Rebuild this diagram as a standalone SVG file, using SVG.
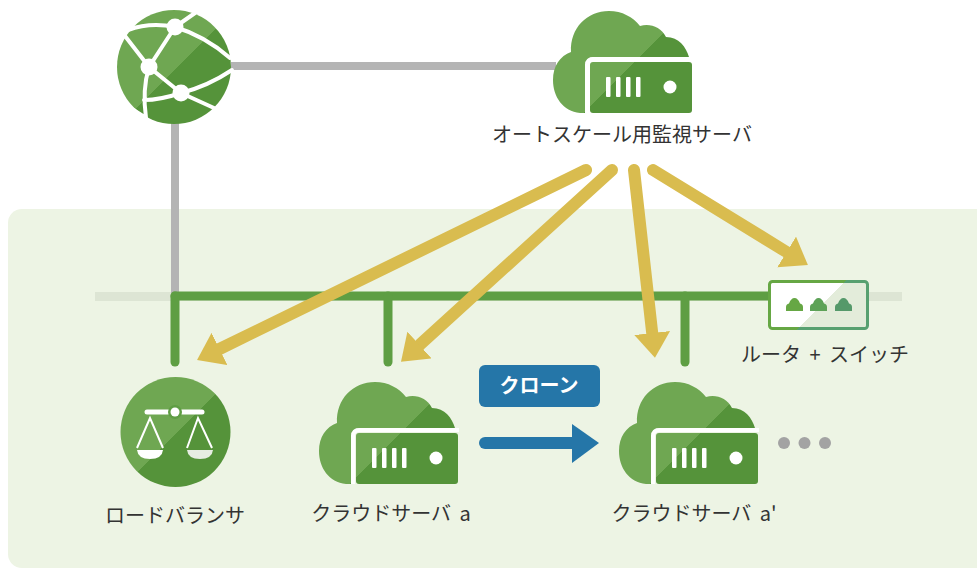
<svg xmlns="http://www.w3.org/2000/svg" xmlns:xlink="http://www.w3.org/1999/xlink" width="977" height="569" viewBox="0 0 977 569">
<style>
text{font-family:"Noto Sans CJK JP","Liberation Sans",sans-serif;font-size:20px;font-weight:400;fill:#333;text-anchor:middle;word-spacing:4px}
.gray{fill:none;stroke:#b4b4b4;stroke-width:8}
.green{fill:none;stroke:#5e9e43;stroke-width:9;stroke-linecap:round}
.yellow{fill:none;stroke:#d9bc4f;stroke-width:12;stroke-linecap:round;marker-end:url(#head)}
.wl{fill:none;stroke:#fff;stroke-width:4;stroke-linecap:round}
.dot{fill:#a3a3a3}
</style>
<defs>
<marker id="head" markerUnits="userSpaceOnUse" viewBox="0 0 25 36" markerWidth="25" markerHeight="36" refX="0" refY="18" orient="auto"><path d="M0,0L25,18L0,36Z" fill="#d9bc4f"/></marker>
<linearGradient id="gCloud" gradientUnits="userSpaceOnUse" x1="0" y1="0" x2="100" y2="100"><stop offset=".665" stop-color="#6fa752"/><stop offset=".665" stop-color="#55933a"/></linearGradient>
<linearGradient id="gGlobe" gradientUnits="userSpaceOnUse" x1="0" y1="0" x2="122" y2="122"><stop offset="1" stop-color="#6fa752"/><stop offset="1" stop-color="#55933a"/></linearGradient>
<linearGradient id="gScale" gradientUnits="userSpaceOnUse" x1="0" y1="0" x2="305" y2="305"><stop offset="1" stop-color="#6fa752"/><stop offset="1" stop-color="#55933a"/></linearGradient>
<linearGradient id="gRFill" gradientUnits="userSpaceOnUse" x1="500" y1="500" x2="563.5" y2="563.5"><stop offset="1" stop-color="#fff"/><stop offset="1" stop-color="#e3ecda"/></linearGradient>
<linearGradient id="gRLine" gradientUnits="userSpaceOnUse" x1="500" y1="500" x2="563.5" y2="563.5"><stop offset="1" stop-color="#66a744"/><stop offset="1" stop-color="#57a070"/></linearGradient>
<symbol id="cloudServer" overflow="visible" width="140" height="103" viewBox="0 0 140 103">
<path d="M32,102H27C10,100 0,86 0,69C0,55 7,45 18,41C17,17 34,0 56,0C69,0 80,6 87,15C97,12 108,16 113,26C126,26 133,36 136,46H40Q33,46 33,54V102Z" fill="url(#gCloud)"/>
<path d="M34,102V54Q34,48 41,48H140" fill="none" stroke="#fff" stroke-width="4"/>
<rect x="37" y="51" width="102" height="51" rx="3" fill="url(#gCloud)"/>
<g fill="#fff"><rect x="53" y="66" width="4.5" height="20" rx="1"/><rect x="63" y="66" width="4.5" height="20" rx="1"/><rect x="73" y="66" width="4.5" height="20" rx="1"/><rect x="83" y="66" width="4.5" height="20" rx="1"/><circle cx="117" cy="76" r="6.5"/></g>
</symbol>
<path id="port" d="M0,13V9Q0,6 3,5.500Q5,0 8.500,0Q12,0 14,5.500Q17,6 17,9V13Z"/>
</defs>

<rect id="zone" x="8" y="209" width="1000" height="359" rx="14" fill="#edf4e4"/>
<rect id="backbone" x="95" y="292" width="807" height="9" fill="#dde5d4"/>

<g id="connectors">
<path class="gray" d="M231,66H556"/>
<path class="gray" d="M175,123V293"/>
<path class="green" d="M175,296H770"/>
<path class="green" d="M175,296V362"/>
<path class="green" d="M388,296V362"/>
<path class="green" d="M685,296V362"/>
<path class="yellow" d="M586,170L219.500,349"/>
<path class="yellow" d="M612,170L419.500,345"/>
<path class="yellow" d="M634,170L652.200,333"/>
<path class="yellow" d="M653,170L786.600,252"/>
<path d="M485,443H572" fill="none" stroke="#2576a8" stroke-width="12" stroke-linecap="round"/>
<path d="M572,424L599,443L572,463Z" fill="#2576a8"/>
</g>

<g id="internet">
<circle cx="174" cy="67" r="57" fill="url(#gGlobe)"/>
<path class="wl" d="M175,27L149,67L181,93M125,36L149,67M128,30Q150,22 175,27Q205,36 230,58M175,27L195,13M181,93Q208,86 232,70M181,93Q160,100 144,100M181,93L214,108M149,67Q142,90 146,118M116,99L146,118"/>
<circle cx="175" cy="27" r="8.500" fill="#fff"/><circle cx="149" cy="67" r="8.500" fill="#fff"/><circle cx="181" cy="93" r="8.500" fill="#fff"/>
</g>

<g id="monitor">
<use xlink:href="#cloudServer" href="#cloudServer" x="553" y="11"/>
<text x="622" y="142">オートスケール用監視サーバ</text>
</g>

<g id="router">
<rect x="769.500" y="281.500" width="98" height="47" rx="3" fill="url(#gRFill)" stroke="url(#gRLine)" stroke-width="3"/>
<use xlink:href="#port" href="#port" x="786" y="298" fill="#66a744"/>
<use xlink:href="#port" href="#port" x="810" y="298" fill="#5da257"/>
<use xlink:href="#port" href="#port" x="835" y="298" fill="#55996a"/>
<text x="825" y="362">ルータ + スイッチ</text>
</g>

<g id="loadbalancer">
<circle cx="175.500" cy="432" r="55" fill="url(#gScale)"/>
<path d="M147,412H202" stroke="#fff" stroke-width="5" stroke-linecap="round"/>
<circle cx="175" cy="412" r="7" fill="#5f9d44"/><circle cx="175" cy="412" r="4.500" fill="#fff"/>
<path d="M137,448L150,418L163,448M187,448L198,418L212,448" fill="none" stroke="#fff" stroke-width="2"/>
<path d="M137,450H163Q162,459 150,459Q138,459 137,450Z" fill="#fff"/>
<path d="M187,450H213Q212,459 200,459Q188,459 187,450Z" fill="#e7ede2"/>
<text x="175" y="523">ロードバランサ</text>
</g>

<g id="servera">
<use xlink:href="#cloudServer" href="#cloudServer" x="319" y="382"/>
<text x="391" y="521">クラウドサーバ a</text>
</g>

<g id="clone">
<rect x="479" y="365" width="121" height="42" rx="6" fill="#2576a8"/>
<text x="539" y="393" style="fill:#fff;font-weight:700">クローン</text>
</g>

<g id="serverb">
<use xlink:href="#cloudServer" href="#cloudServer" x="619" y="382"/>
<text x="694" y="521">クラウドサーバ a'</text>
</g>

<g id="more">
<circle class="dot" cx="784" cy="443" r="6"/><circle class="dot" cx="804.500" cy="443" r="6"/><circle class="dot" cx="825" cy="443" r="6"/>
</g>
</svg>
